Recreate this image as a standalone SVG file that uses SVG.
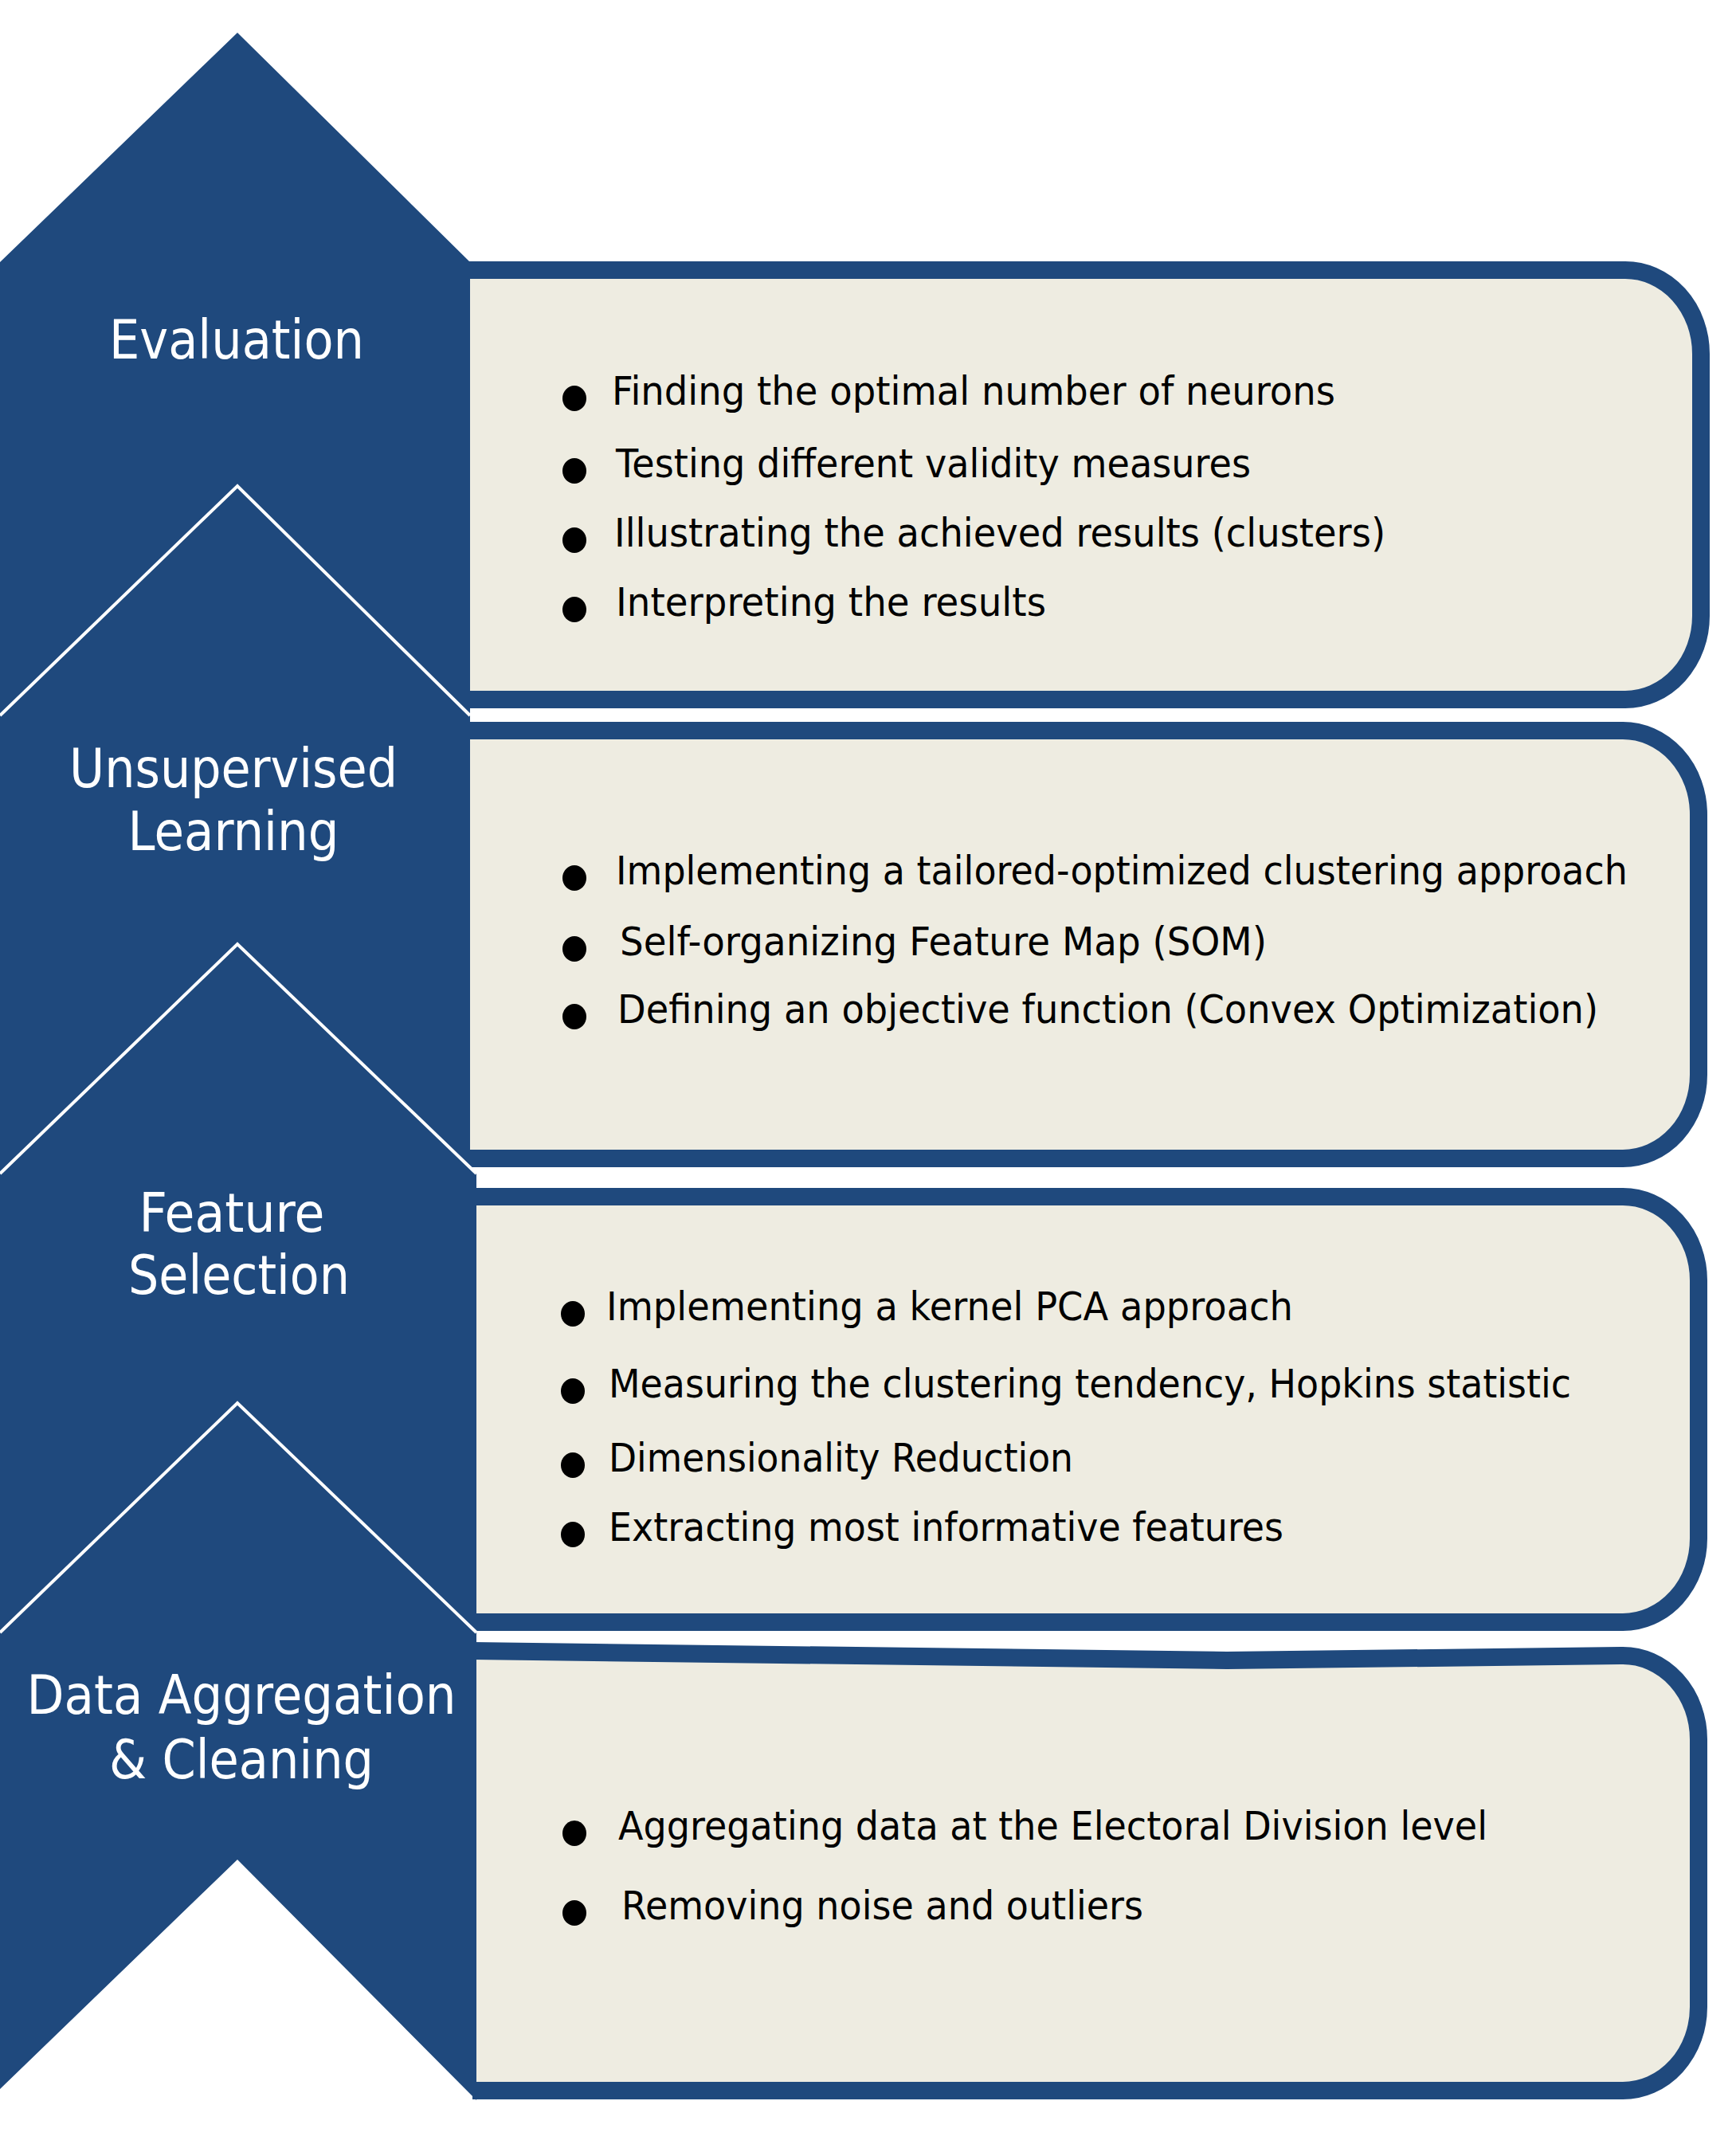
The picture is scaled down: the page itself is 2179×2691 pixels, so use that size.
<svg xmlns="http://www.w3.org/2000/svg" width="2179" height="2691" viewBox="0 0 2179 2691">
<style>
.chev{fill:#1F497D;}
.sep{fill:none;stroke:#FFFFFF;stroke-width:4;stroke-linejoin:miter;}
.bfill{fill:#EEECE1;stroke:none;}
.bline{fill:none;stroke:#1F497D;stroke-width:22;stroke-linejoin:round;}
.lbl{font-family:"DejaVu Sans","Liberation Sans",sans-serif;font-size:68px;fill:#FFFFFF;text-anchor:middle;}
.txt{font-family:"DejaVu Sans","Liberation Sans",sans-serif;font-size:49px;fill:#000000;}
.dot{fill:#000000;}
</style>
<rect width="2179" height="2691" fill="#FFFFFF"/>
<g id="stage-evaluation">
<path class="bfill" d="M585,339 L2040,339 A95,105 0 0 1 2135,444 L2135,773 A95,105 0 0 1 2040,878 L585,878 Z"/>
<path class="bline" d="M585,339 L2040,339 A95,105 0 0 1 2135,444 L2135,773 A95,105 0 0 1 2040,878 L585,878"/>
<path class="chev" d="M298,41 L590,329 L590,898 L298,610 L0,898 L0,329 Z"/>
<text class="lbl" x="297" y="450" textLength="320" lengthAdjust="spacingAndGlyphs">Evaluation</text>
<ellipse class="dot" cx="721" cy="500" rx="15" ry="16"/>
<text class="txt" x="768" y="508" textLength="908" lengthAdjust="spacingAndGlyphs">Finding the optimal number of neurons</text>
<ellipse class="dot" cx="721" cy="591" rx="15" ry="16"/>
<text class="txt" x="773" y="599" textLength="797" lengthAdjust="spacingAndGlyphs">Testing different validity measures</text>
<ellipse class="dot" cx="721" cy="678" rx="15" ry="16"/>
<text class="txt" x="771" y="686" textLength="968" lengthAdjust="spacingAndGlyphs">Illustrating the achieved results (clusters)</text>
<ellipse class="dot" cx="721" cy="765" rx="15" ry="16"/>
<text class="txt" x="773" y="773" textLength="540" lengthAdjust="spacingAndGlyphs">Interpreting the results</text>
</g>
<g id="stage-unsupervised">
<path class="bfill" d="M585,917 L2037,917 A95,105 0 0 1 2132,1022 L2132,1349 A95,105 0 0 1 2037,1454 L585,1454 Z"/>
<path class="bline" d="M585,917 L2037,917 A95,105 0 0 1 2132,1022 L2132,1349 A95,105 0 0 1 2037,1454 L585,1454"/>
<path class="chev" d="M298,610 L590,898 L590,1473 L298,1185 L0,1473 L0,898 Z"/>
<text class="lbl" x="293" y="988" textLength="412" lengthAdjust="spacingAndGlyphs">Unsupervised</text>
<text class="lbl" x="293" y="1067" textLength="265" lengthAdjust="spacingAndGlyphs">Learning</text>
<ellipse class="dot" cx="721" cy="1102" rx="15" ry="16"/>
<text class="txt" x="773" y="1110" textLength="1270" lengthAdjust="spacingAndGlyphs">Implementing a tailored-optimized clustering approach</text>
<ellipse class="dot" cx="721" cy="1191" rx="15" ry="16"/>
<text class="txt" x="778" y="1199" textLength="812" lengthAdjust="spacingAndGlyphs">Self-organizing Feature Map (SOM)</text>
<ellipse class="dot" cx="721" cy="1276" rx="15" ry="16"/>
<text class="txt" x="775" y="1284" textLength="1231" lengthAdjust="spacingAndGlyphs">Defining an objective function (Convex Optimization)</text>
</g>
<g id="stage-feature">
<path class="bfill" d="M593,1502 L2037,1502 A95,105 0 0 1 2132,1607 L2132,1931 A95,105 0 0 1 2037,2036 L593,2036 Z"/>
<path class="bline" d="M593,1502 L2037,1502 A95,105 0 0 1 2132,1607 L2132,1931 A95,105 0 0 1 2037,2036 L593,2036"/>
<path class="chev" d="M298,1185 L598,1473 L598,2049 L298,1761 L0,2049 L0,1473 Z"/>
<text class="lbl" x="291" y="1546" textLength="233" lengthAdjust="spacingAndGlyphs">Feature</text>
<text class="lbl" x="300" y="1624" textLength="278" lengthAdjust="spacingAndGlyphs">Selection</text>
<ellipse class="dot" cx="719" cy="1649" rx="15" ry="16"/>
<text class="txt" x="761" y="1657" textLength="862" lengthAdjust="spacingAndGlyphs">Implementing a kernel PCA approach</text>
<ellipse class="dot" cx="719" cy="1746" rx="15" ry="16"/>
<text class="txt" x="764" y="1754" textLength="1208" lengthAdjust="spacingAndGlyphs">Measuring the clustering tendency, Hopkins statistic</text>
<ellipse class="dot" cx="719" cy="1839" rx="15" ry="16"/>
<text class="txt" x="764" y="1847" textLength="583" lengthAdjust="spacingAndGlyphs">Dimensionality Reduction</text>
<ellipse class="dot" cx="719" cy="1926" rx="15" ry="16"/>
<text class="txt" x="764" y="1934" textLength="847" lengthAdjust="spacingAndGlyphs">Extracting most informative features</text>
</g>
<g id="stage-data">
<path class="bfill" d="M593,2072 L1540,2084 L2037,2078 A95,105 0 0 1 2132,2183 L2132,2519 A95,105 0 0 1 2037,2624 L593,2624 Z"/>
<path class="bline" d="M593,2072 L1540,2084 L2037,2078 A95,105 0 0 1 2132,2183 L2132,2519 A95,105 0 0 1 2037,2624 L593,2624"/>
<path class="chev" d="M298,1761 L598,2049 L598,2636 L298,2334 L0,2622 L0,2049 Z"/>
<text class="lbl" x="303" y="2151" textLength="539" lengthAdjust="spacingAndGlyphs">Data Aggregation</text>
<text class="lbl" x="303" y="2232" textLength="332" lengthAdjust="spacingAndGlyphs">&amp; Cleaning</text>
<ellipse class="dot" cx="721" cy="2301" rx="15" ry="16"/>
<text class="txt" x="776" y="2309" textLength="1091" lengthAdjust="spacingAndGlyphs">Aggregating data at the Electoral Division level</text>
<ellipse class="dot" cx="721" cy="2401" rx="15" ry="16"/>
<text class="txt" x="780" y="2409" textLength="655" lengthAdjust="spacingAndGlyphs">Removing noise and outliers</text>
</g>
<g id="connectors">
<polyline class="sep" points="0,898 298,610 590,898"/>
<polyline class="sep" points="0,1473 298,1185 598,1473"/>
<polyline class="sep" points="0,2049 298,1761 598,2049"/>
</g>
</svg>
